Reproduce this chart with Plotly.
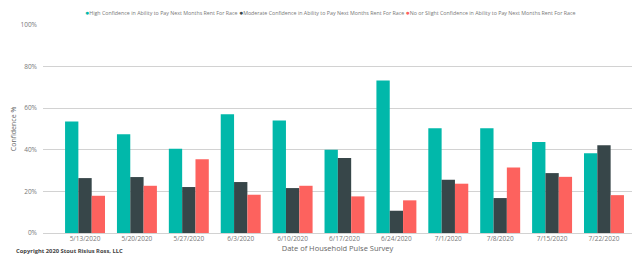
import plotly.graph_objects as go

dates = ["5/13/2020", "5/20/2020", "5/27/2020", "6/3/2020", "6/10/2020", "6/17/2020",
         "6/24/2020", "7/1/2020", "7/8/2020", "7/15/2020", "7/22/2020"]
high_conf = [53.6, 47.5, 40.5, 57.1, 54.1, 40.0, 73.3, 50.4, 50.4, 43.8, 38.4]
moderate_conf = [26.4, 26.9, 22.1, 24.5, 21.6, 36.0, 10.7, 25.6, 16.8, 28.8, 42.2]
low_conf = [17.9, 22.7, 35.5, 18.4, 22.7, 17.6, 15.7, 23.7, 31.5, 27.0, 18.2]

series_names = [
    "High Confidence in Ability to Pay Next Months Rent For Race",
    "Moderate Confidence in Ability to Pay Next Months Rent For Race",
    "No or Slight Confidence in Ability to Pay Next Months Rent For Race",
]
colors = ["#01B8AA", "#374649", "#FD625E"]
values = [high_conf, moderate_conf, low_conf]

FONT = "Open Sans"
fig = go.Figure()
for name, vals, col in zip(series_names, values, colors):
    fig.add_trace(go.Bar(x=dates, y=vals, name=name, marker=dict(color=col, line=dict(width=0))))

# legend drawn as a single line of text with coloured dots (Power BI style)
legend_text = " ".join(
    f"<span style='color:{c};font-size:7px'>●</span><span style='color:#777777'>{n}</span>"
    for n, c in zip(series_names, colors)
)

PLOT_W = 640 - 43 - 8
PLOT_H = 256 - 25 - 23

fig.update_layout(
    width=640, height=256,
    margin=dict(l=43, r=8, t=25, b=23, autoexpand=False),
    paper_bgcolor="white", plot_bgcolor="white",
    barmode="group", bargap=0.23, bargroupgap=0,
    font=dict(family=FONT, size=7, color="#777777"),
    showlegend=False,
    xaxis=dict(type="category", range=[-0.81, 10.54], showgrid=False, showline=False,
               ticks="", tickfont=dict(size=6.5, color="#777777"), tickangle=0,
               title=dict(text="Date of Household Pulse Survey", font=dict(size=7.5, color="#666666"),
                          standoff=1)),
    yaxis=dict(range=[0, 100], tickvals=[0, 20, 40, 60, 80, 100],
               ticktext=["0%", "20%", "40%", "60%", "80%", "100%"],
               showgrid=True, gridcolor="#d2d2d2", gridwidth=1, zeroline=True,
               zerolinecolor="#d2d2d2", zerolinewidth=1, showline=False, ticks="",
               tickfont=dict(size=6.5, color="#777777"), ticklabelstandoff=5,
               title=dict(text="Confidence %", font=dict(size=7, color="#666666"), standoff=3)),
    annotations=[
        dict(text=legend_text, xref="paper", yref="paper",
             x=(330 - 43) / PLOT_W, y=1 + (25 - 13) / PLOT_H, xanchor="center", yanchor="middle",
             showarrow=False, font=dict(size=5.3, family=FONT)),
        dict(text="<b>Copyright 2020 Stout Risius Ross, LLC</b>", xref="paper", yref="paper",
             x=(14 - 43) / PLOT_W, y=(233 - 251) / PLOT_H, xanchor="left", yanchor="middle",
             showarrow=False, font=dict(size=5.8, color="#444444", family=FONT)),
    ],
)

fig.write_html("out.html", config={"displayModeBar": False},
               post_script="document.body.style.margin='0';")
